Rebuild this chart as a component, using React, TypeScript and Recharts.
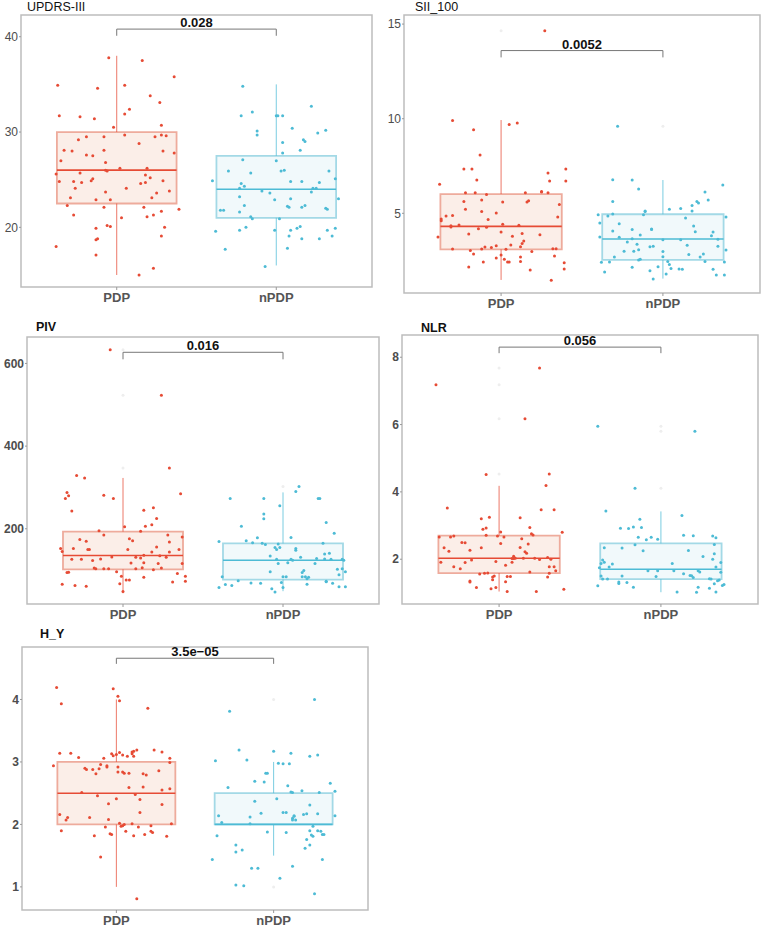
import React from 'react';
import { ComposedChart, Scatter, XAxis, YAxis, ReferenceArea, ReferenceLine } from 'recharts';

const groups = ['PDP', 'nPDP'];

// points are [jitter, value]; boxes are [min, q1, median, q3, max]
const updrsPDP: [number, number][] = [
  [-0.37, 34.9], [-0.36, 31.7], [-0.35, 27.0], [-0.38, 25.6], [-0.36, 24.8], [-0.38, 18.0], [-0.33, 28.1], [-0.31, 22.3],
  [-0.29, 23.1], [-0.28, 28.0], [-0.27, 21.3], [-0.27, 24.8], [-0.26, 24.1], [-0.24, 29.2], [-0.23, 31.6], [-0.23, 25.7],
  [-0.22, 24.7], [-0.19, 27.6], [-0.19, 29.5], [-0.15, 27.5], [-0.16, 24.9], [-0.15, 25.1], [-0.14, 31.4], [-0.13, 22.9],
  [-0.12, 34.6], [-0.12, 18.8], [-0.13, 18.7], [-0.13, 19.9], [-0.13, 17.1], [-0.08, 29.5], [-0.08, 28.1], [-0.08, 22.1],
  [-0.07, 26.8], [-0.07, 23.7], [-0.07, 26.0], [-0.06, 25.9], [-0.06, 20.2], [-0.04, 22.9], [-0.04, 20.1], [-0.05, 37.8],
  [-0.02, 30.5], [0.03, 21.0], [0.02, 26.2], [0.05, 31.9], [0.05, 34.9], [0.05, 29.7], [0.06, 24.1], [0.08, 32.4],
  [0.14, 28.8], [0.16, 37.5], [0.15, 24.6], [0.14, 15.0], [0.18, 25.5], [0.18, 24.7], [0.17, 22.1], [0.19, 26.2],
  [0.19, 21.1], [0.21, 33.8], [0.21, 25.2], [0.22, 23.1], [0.23, 15.7], [0.24, 29.5], [0.23, 21.3], [0.25, 23.6],
  [0.27, 33.1], [0.28, 29.7], [0.28, 30.7], [0.29, 28.0], [0.29, 24.9], [0.28, 21.7], [0.28, 19.1], [0.30, 20.0],
  [0.31, 29.6], [0.33, 23.8], [0.36, 35.8], [0.36, 27.8], [0.39, 21.9],
];
const updrsNPDP: [number, number][] = [
  [-0.40, 24.9], [-0.38, 19.6], [-0.35, 21.8], [-0.33, 21.8], [-0.32, 17.7], [-0.30, 25.9], [-0.23, 24.1], [-0.23, 23.2],
  [-0.22, 24.6], [-0.23, 21.6], [-0.23, 19.7], [-0.22, 31.7], [-0.21, 27.1], [-0.21, 34.8], [-0.20, 22.3], [-0.20, 24.3],
  [-0.19, 20.0], [-0.16, 25.7], [-0.15, 32.1], [-0.16, 21.1], [-0.15, 20.9], [-0.12, 30.1], [-0.12, 29.7], [-0.09, 23.8],
  [-0.07, 15.9], [-0.04, 23.6], [-0.01, 19.7], [-0.01, 22.9], [0.00, 31.7], [0.01, 31.7], [0.00, 27.0], [0.02, 20.9],
  [0.03, 25.9], [0.04, 31.7], [0.04, 28.9], [0.04, 27.8], [0.05, 26.0], [0.07, 17.8], [0.07, 22.2], [0.08, 22.1],
  [0.08, 19.1], [0.09, 23.0], [0.09, 24.8], [0.10, 30.4], [0.09, 19.7], [0.13, 19.9], [0.15, 20.1], [0.15, 28.1],
  [0.16, 18.8], [0.16, 24.8], [0.16, 22.1], [0.17, 29.2], [0.18, 29.0], [0.18, 22.3], [0.22, 23.7], [0.23, 24.1],
  [0.25, 24.1], [0.26, 29.9], [0.27, 24.7], [0.27, 18.8], [0.31, 30.2], [0.32, 19.7], [0.33, 25.9], [0.31, 22.0],
  [0.32, 21.9], [0.35, 19.1], [0.37, 19.9], [0.37, 25.1], [0.39, 23.0], [0.22, 32.7],
];
const updrsBoxPDP = [15, 22.5, 26, 30, 38];
const updrsBoxNPDP = [16, 21, 24, 27.5, 35];

const siiPDP: [number, number][] = [
  [-0.39, 3.75], [-0.38, 6.53], [-0.37, 4.70], [-0.37, 4.61], [-0.34, 4.86], [-0.31, 4.28], [-0.31, 4.35], [-0.30, 4.89],
  [-0.30, 9.91], [-0.30, 3.12], [-0.26, 4.38], [-0.23, 5.62], [-0.23, 7.34], [-0.22, 5.21], [-0.22, 6.09], [-0.20, 3.91],
  [-0.20, 2.17], [-0.19, 3.03], [-0.18, 7.34], [-0.17, 9.42], [-0.17, 2.85], [-0.16, 6.09], [-0.15, 6.76], [-0.14, 4.19],
  [-0.13, 8.08], [-0.12, 5.70], [-0.12, 5.09], [-0.12, 3.12], [-0.11, 2.43], [-0.10, 3.22], [-0.09, 5.99], [-0.09, 4.26],
  [-0.08, 4.68], [-0.06, 3.19], [-0.03, 3.29], [-0.03, 2.64], [-0.03, 5.02], [0.00, 4.01], [0.00, 2.80], [0.01, 4.42],
  [0.01, 5.60], [0.02, 2.57], [0.03, 3.10], [0.04, 2.43], [0.05, 2.43], [0.05, 9.70], [0.06, 3.33], [0.07, 3.79],
  [0.10, 9.77], [0.11, 4.37], [0.12, 3.24], [0.13, 3.40], [0.12, 2.45], [0.12, 2.69], [0.13, 3.93], [0.14, 3.54],
  [0.15, 6.09], [0.16, 5.60], [0.17, 5.67], [0.18, 2.01], [0.19, 2.98], [0.24, 3.87], [0.25, 6.16], [0.25, 6.13],
  [0.27, 14.65], [0.29, 7.13], [0.29, 6.09], [0.30, 6.71], [0.32, 3.13], [0.33, 2.75], [0.34, 3.13], [0.35, 4.81],
  [0.36, 5.46], [0.39, 2.39], [0.39, 2.06], [0.40, 7.34], [0.40, 6.71], [0.31, 1.46],
];
const siiNPDP: [number, number][] = [
  [-0.40, 4.93], [-0.39, 4.49], [-0.39, 3.75], [-0.38, 2.41], [-0.36, 1.90], [-0.34, 4.86], [-0.33, 2.43], [-0.31, 4.96],
  [-0.31, 4.07], [-0.31, 5.63], [-0.31, 6.78], [-0.30, 2.69], [-0.27, 4.45], [-0.27, 3.73], [-0.24, 2.99], [-0.22, 3.49],
  [-0.19, 4.15], [-0.19, 6.76], [-0.19, 3.66], [-0.19, 2.15], [-0.18, 2.99], [-0.16, 3.36], [-0.15, 3.08], [-0.15, 2.54],
  [-0.15, 6.29], [-0.14, 3.86], [-0.14, 2.57], [-0.12, 4.93], [-0.11, 5.09], [-0.11, 5.12], [-0.08, 3.24], [-0.08, 1.97],
  [-0.07, 4.14], [-0.07, 4.17], [-0.06, 3.26], [-0.06, 1.53], [-0.03, 2.18], [0.00, 2.98], [0.00, 3.61], [0.00, 2.71],
  [0.02, 1.80], [0.03, 2.45], [0.04, 2.29], [0.04, 5.21], [0.05, 2.08], [0.10, 2.06], [0.11, 5.25], [0.11, 3.61],
  [0.12, 2.04], [0.14, 4.75], [0.15, 3.31], [0.16, 2.83], [0.18, 5.42], [0.18, 5.12], [0.19, 4.33], [0.20, 4.03],
  [0.21, 5.62], [0.22, 5.55], [0.23, 2.69], [0.25, 2.85], [0.26, 6.13], [0.26, 2.45], [0.28, 5.70], [0.30, 3.82],
  [0.31, 4.01], [0.31, 2.04], [0.33, 1.74], [0.34, 3.63], [0.34, 3.26], [0.37, 6.50], [0.38, 2.43], [0.38, 1.74],
  [0.39, 4.81], [0.39, 3.06], [-0.28, 9.60],
];
const siiBoxPDP = [1.48, 3.1, 4.31, 6.02, 9.93];
const siiBoxNPDP = [1.55, 2.54, 3.64, 4.95, 6.76];
const siiOutPDP = [14.65];
const siiOutNPDP = [9.6];

const pivPDP: [number, number][] = [
  [-0.39, 152], [-0.38, 66], [-0.38, 145], [-0.36, 273], [-0.35, 94], [-0.34, 95], [-0.35, 288], [-0.34, 280],
  [-0.32, 243], [-0.32, 126], [-0.31, 152], [-0.30, 63], [-0.29, 329], [-0.27, 174], [-0.26, 126], [-0.24, 323],
  [-0.23, 61], [-0.23, 170], [-0.22, 150], [-0.21, 150], [-0.19, 123], [-0.18, 105], [-0.17, 103], [-0.15, 195],
  [-0.14, 127], [-0.12, 281], [-0.12, 103], [-0.12, 185], [-0.09, 103], [-0.07, 132], [-0.06, 273], [-0.04, 96],
  [-0.02, 67], [-0.01, 85], [0.00, 48], [0.01, 205], [0.02, 76], [0.03, 150], [0.04, 76], [0.04, 176],
  [0.05, 117], [0.06, 171], [0.08, 103], [0.08, 131], [0.11, 129], [0.11, 194], [0.12, 106], [0.13, 136],
  [0.13, 118], [0.13, 83], [0.13, 245], [0.14, 206], [0.18, 144], [0.18, 210], [0.19, 251], [0.19, 101],
  [0.21, 225], [0.21, 156], [0.22, 116], [0.23, 135], [0.24, 105], [0.24, 523], [0.27, 131], [0.28, 185],
  [0.29, 168], [0.29, 144], [0.29, 347], [0.31, 71], [0.34, 92], [0.35, 150], [0.36, 285], [0.37, 180],
  [0.37, 116], [0.39, 85], [0.39, 73], [-0.08, 633],
];
const pivNPDP: [number, number][] = [
  [-0.40, 58], [-0.40, 169], [-0.38, 84], [-0.36, 65], [-0.33, 273], [-0.32, 63], [-0.28, 74], [-0.26, 206],
  [-0.23, 171], [-0.20, 69], [-0.19, 166], [-0.16, 178], [-0.14, 68], [-0.13, 165], [-0.08, 134], [-0.08, 96],
  [-0.12, 273], [-0.12, 236], [-0.12, 224], [-0.11, 162], [-0.07, 55], [-0.05, 155], [-0.05, 47], [-0.04, 150],
  [-0.03, 163], [-0.03, 116], [-0.02, 155], [-0.02, 256], [0.00, 84], [0.00, 58], [-0.01, 70], [0.02, 84],
  [0.03, 118], [0.05, 179], [0.05, 126], [0.06, 124], [0.08, 152], [0.08, 148], [0.08, 290], [0.10, 302],
  [0.11, 131], [0.12, 94], [0.12, 84], [0.13, 99], [0.14, 84], [0.15, 79], [0.15, 66], [0.16, 83],
  [0.20, 116], [0.21, 128], [0.22, 273], [0.23, 273], [0.25, 165], [0.26, 127], [0.26, 139], [0.27, 72],
  [0.27, 215], [0.27, 73], [0.29, 141], [0.30, 126], [0.31, 68], [0.32, 189], [0.34, 102], [0.35, 89],
  [0.37, 103], [0.37, 126], [0.38, 124], [0.39, 96], [0.39, 60], [0.35, 60], [-0.04, 126],
];
const pivBoxPDP = [44, 102, 135.5, 193, 323];
const pivBoxNPDP = [49, 77, 124, 164.5, 288];
const pivOutPDP = [633, 523, 347];
const pivOutNPDP = [302];

const nlrPDP: [number, number][] = [
  [-0.39, 7.18], [-0.37, 2.66], [-0.36, 1.91], [-0.34, 2.34], [-0.32, 3.52], [-0.31, 2.24], [-0.30, 2.66], [-0.28, 1.78],
  [-0.28, 2.69], [-0.24, 1.72], [-0.23, 2.50], [-0.21, 2.49], [-0.21, 1.90], [-0.18, 2.27], [-0.18, 1.35], [-0.18, 1.32],
  [-0.17, 1.98], [-0.14, 1.16], [-0.11, 3.20], [-0.11, 2.34], [-0.12, 1.56], [-0.10, 2.89], [-0.09, 1.58], [-0.08, 2.93],
  [-0.08, 2.71], [-0.08, 4.52], [-0.07, 1.59], [-0.06, 3.25], [-0.05, 1.12], [-0.04, 1.39], [-0.04, 1.47], [-0.03, 1.50],
  [-0.02, 1.16], [-0.02, 1.93], [-0.01, 2.69], [0.01, 2.81], [0.01, 2.47], [0.03, 2.66], [0.04, 1.82], [0.04, 1.33],
  [0.05, 1.04], [0.05, 1.49], [0.07, 1.49], [0.08, 1.91], [0.08, 2.02], [0.09, 2.09], [0.09, 2.02], [0.10, 2.03],
  [0.13, 2.35], [0.13, 3.23], [0.14, 2.61], [0.15, 2.03], [0.16, 6.17], [0.16, 2.22], [0.17, 2.18], [0.18, 2.45],
  [0.19, 2.94], [0.19, 1.62], [0.20, 2.76], [0.21, 2.72], [0.22, 2.03], [0.23, 1.04], [0.25, 1.99], [0.26, 3.47],
  [0.29, 4.19], [0.30, 2.05], [0.30, 1.47], [0.31, 4.53], [0.31, 1.58], [0.32, 2.00], [0.34, 1.78], [0.34, 3.47],
  [0.35, 1.66], [0.39, 2.80], [0.40, 1.11], [0.25, 7.68], [0.31, 1.78],
];
const nlrNPDP: [number, number][] = [
  [-0.39, 5.95], [-0.39, 1.21], [-0.38, 1.75], [-0.37, 1.50], [-0.37, 1.87], [-0.36, 1.41], [-0.35, 2.34], [-0.36, 1.98],
  [-0.35, 1.91], [-0.34, 3.43], [-0.33, 1.41], [-0.32, 1.77], [-0.30, 1.86], [-0.26, 1.28], [-0.26, 1.32], [-0.25, 2.92],
  [-0.24, 2.33], [-0.24, 1.50], [-0.21, 1.31], [-0.20, 2.91], [-0.17, 2.96], [-0.17, 1.17], [-0.16, 2.43], [-0.16, 4.11],
  [-0.14, 2.65], [-0.13, 3.19], [-0.12, 2.94], [-0.11, 2.25], [-0.09, 2.58], [-0.08, 1.66], [-0.06, 2.65], [-0.03, 1.49],
  [-0.02, 2.59], [-0.02, 1.66], [0.07, 1.87], [0.08, 1.66], [0.10, 1.03], [0.13, 3.30], [0.14, 1.57], [0.14, 2.71],
  [0.17, 2.26], [0.18, 1.52], [0.19, 1.51], [0.20, 1.46], [0.20, 2.70], [0.21, 5.80], [0.22, 1.02], [0.23, 1.17],
  [0.23, 1.66], [0.24, 1.62], [0.26, 2.08], [0.30, 1.14], [0.30, 1.42], [0.31, 1.41], [0.32, 2.69], [0.32, 2.00],
  [0.33, 2.44], [0.33, 1.27], [0.34, 2.64], [0.34, 1.77], [0.34, 1.03], [0.35, 1.36], [0.36, 1.38], [0.37, 1.90],
  [0.37, 1.61], [0.38, 1.22], [0.39, 1.25], [0.33, 2.16],
];
const nlrBoxPDP = [1.04, 1.59, 2.03, 2.70, 4.18];
const nlrBoxNPDP = [1.02, 1.41, 1.70, 2.47, 3.42];
const nlrOutPDP = [7.68, 7.18, 6.17, 4.53];
const nlrOutNPDP = [5.95, 5.8, 4.11];

const hyPDP: [number, number][] = [
  [-0.40, 2.94], [-0.38, 4.19], [-0.36, 2.16], [-0.36, 3.14], [-0.35, 3.93], [-0.35, 1.90], [-0.32, 2.07], [-0.31, 2.11],
  [-0.29, 3.14], [-0.24, 3.07], [-0.22, 2.51], [-0.20, 2.90], [-0.19, 2.88], [-0.17, 2.11], [-0.15, 2.88], [-0.14, 1.82],
  [-0.13, 2.81], [-0.12, 2.46], [-0.11, 2.89], [-0.10, 1.48], [-0.10, 2.96], [-0.08, 3.06], [-0.07, 1.96], [-0.06, 2.92],
  [-0.06, 2.94], [-0.05, 2.33], [-0.05, 2.08], [-0.04, 1.85], [-0.03, 1.84], [-0.02, 4.17], [-0.03, 3.13], [-0.02, 3.10],
  [0.00, 2.41], [0.00, 3.12], [0.01, 2.92], [0.01, 2.84], [0.01, 4.05], [0.02, 2.02], [0.02, 3.15], [0.02, 3.98],
  [0.03, 1.97], [0.04, 1.98], [0.04, 3.11], [0.04, 2.84], [0.05, 2.82], [0.05, 2.00], [0.06, 1.89], [0.07, 3.09],
  [0.08, 2.59], [0.08, 2.82], [0.10, 3.16], [0.10, 3.13], [0.10, 2.01], [0.11, 1.82], [0.11, 3.17], [0.11, 3.09],
  [0.12, 2.48], [0.13, 3.19], [0.14, 1.96], [0.15, 2.19], [0.15, 2.40], [0.17, 2.81], [0.17, 2.60], [0.18, 1.84],
  [0.19, 2.79], [0.20, 3.86], [0.22, 1.89], [0.22, 1.98], [0.23, 1.87], [0.24, 3.19], [0.27, 2.86], [0.29, 3.16],
  [0.29, 2.32], [0.29, 2.55], [0.32, 1.81], [0.34, 3.06], [0.34, 2.99], [0.34, 2.57], [0.35, 2.01], [0.13, 0.81],
];
const hyNPDP: [number, number][] = [
  [-0.39, 1.44], [-0.37, 3.02], [-0.36, 1.82], [-0.35, 2.14], [-0.33, 2.03], [-0.29, 2.59], [-0.28, 3.81], [-0.24, 1.67],
  [-0.24, 1.56], [-0.24, 1.03], [-0.22, 3.19], [-0.20, 1.59], [-0.19, 1.02], [-0.17, 3.03], [-0.15, 2.12], [-0.15, 2.01],
  [-0.14, 1.30], [-0.12, 2.37], [-0.12, 2.69], [-0.10, 1.30], [-0.08, 2.18], [-0.06, 2.68], [-0.05, 2.82], [-0.04, 2.82],
  [-0.04, 1.88], [0.00, 3.17], [0.02, 2.41], [0.03, 2.98], [0.04, 1.14], [0.06, 2.97], [0.06, 2.19], [0.08, 2.19],
  [0.08, 1.87], [0.09, 2.62], [0.10, 2.97], [0.11, 3.14], [0.11, 2.52], [0.12, 2.51], [0.12, 2.07], [0.12, 1.33],
  [0.12, 2.10], [0.13, 2.13], [0.13, 2.14], [0.14, 2.07], [0.18, 2.54], [0.19, 2.16], [0.20, 1.62], [0.21, 1.76],
  [0.21, 2.17], [0.23, 2.31], [0.23, 3.09], [0.23, 1.90], [0.23, 1.67], [0.24, 1.83], [0.25, 1.97], [0.25, 1.81],
  [0.26, 0.89], [0.26, 4.00], [0.28, 1.90], [0.28, 2.17], [0.28, 3.11], [0.29, 2.51], [0.30, 1.89], [0.31, 1.84],
  [0.31, 1.44], [0.32, 1.84], [0.36, 2.66], [0.39, 2.53], [0.39, 2.14],
];
const hyBoxPDP = [1, 2, 2.5, 3, 4];
const hyBoxNPDP = [1.5, 2, 2, 2.5, 3];
const hyOutNPDP = [4, 1];

const FONT = '"Liberation Sans", Arial, Helvetica, sans-serif';
const RED = '#E64B35';
const BLUE = '#4DBBD5';
const TOP = 16; // room above the frame for the p-value text

const panels = [
  {
    title: 'UPDRS-III', bold: false, p: '0.028', bracket: [40.1, 40.8],
    domain: [13.74, 42.28], ticks: [20, 30, 40],
    frame: { l: 21, t: 15, r: 372, b: 287 }, chartLeft: 0, titlePos: [27, 0],
    pdp: updrsPDP, npdp: updrsNPDP, boxPdp: updrsBoxPDP, boxNpdp: updrsBoxNPDP, outPdp: [], outNpdp: [],
  },
  {
    title: 'SII_100', bold: false, p: '0.0052', bracket: [13.24, 13.6],
    domain: [0.79, 15.48], ticks: [5, 10, 15],
    frame: { l: 404, t: 15, r: 760, b: 293 }, chartLeft: 380, titlePos: [415, 0],
    pdp: siiPDP, npdp: siiNPDP, boxPdp: siiBoxPDP, boxNpdp: siiBoxNPDP, outPdp: siiOutPDP, outNpdp: siiOutNPDP,
  },
  {
    title: 'PIV', bold: true, p: '0.016', bracket: [610, 627],
    domain: [18, 664], ticks: [200, 400, 600],
    frame: { l: 27, t: 337, r: 379, b: 604 }, chartLeft: 0, titlePos: [36, 320],
    pdp: pivPDP, npdp: pivNPDP, boxPdp: pivBoxPDP, boxNpdp: pivBoxNPDP, outPdp: pivOutPDP, outNpdp: pivOutNPDP,
  },
  {
    title: 'NLR', bold: true, p: '0.056', bracket: [8.12, 8.3],
    domain: [0.67, 8.66], ticks: [2, 4, 6, 8],
    frame: { l: 402, t: 335, r: 758, b: 604 }, chartLeft: 380, titlePos: [421, 321],
    pdp: nlrPDP, npdp: nlrNPDP, boxPdp: nlrBoxPDP, boxNpdp: nlrBoxNPDP, outPdp: nlrOutPDP, outNpdp: nlrOutNPDP,
  },
  {
    title: 'H_Y', bold: true, p: '3.5e\u221205', bracket: [4.57, 4.66],
    domain: [0.63, 4.84], ticks: [1, 2, 3, 4],
    frame: { l: 22, t: 647, r: 368, b: 910 }, chartLeft: 0, titlePos: [40, 627],
    pdp: hyPDP, npdp: hyNPDP, boxPdp: hyBoxPDP, boxNpdp: hyBoxNPDP, outPdp: [], outNpdp: hyOutNPDP,
  },
];

const dot = (color: string) => (props: any) => (
  <circle cx={props.cx} cy={props.cy} r={1.5} fill={color} />
);

// boxplot pieces drawn with reference elements in data coordinates
function boxParts(stats: number[], c: number, color: string, fill: string, edge: string, key: string) {
  const [mn, q1, med, q3, mx] = stats;
  const hw = 0.375;
  return [
    <ReferenceLine key={key + 'w1'} segment={[{ x: c, y: mn }, { x: c, y: q1 }]} stroke={color} strokeOpacity={0.75} strokeWidth={1} />,
    <ReferenceLine key={key + 'w2'} segment={[{ x: c, y: q3 }, { x: c, y: mx }]} stroke={color} strokeOpacity={0.75} strokeWidth={1} />,
    <ReferenceArea key={key + 'box'} x1={c - hw} x2={c + hw} y1={q1} y2={q3} fill={fill} fillOpacity={1} stroke={edge} strokeWidth={1.8} />,
    <ReferenceLine key={key + 'med'} segment={[{ x: c - hw, y: med }, { x: c + hw, y: med }]} stroke={color} strokeWidth={1.6} />,
  ];
}

function Panel({ cfg }: { cfg: any }) {
  const { frame, chartLeft, domain, ticks, bold, title, p, bracket } = cfg;
  const yw = frame.l - chartLeft;
  const w = frame.r - chartLeft + 2;
  const h = frame.b - frame.t + TOP + 30;
  const pdpData = cfg.pdp.map(([j, v]: number[]) => ({ x: 1 + j, y: v }));
  const npdpData = cfg.npdp.map(([j, v]: number[]) => ({ x: 2 + j, y: v }));
  const outData = [
    ...cfg.outPdp.map((v: number) => ({ x: 1, y: v })),
    ...cfg.outNpdp.map((v: number) => ({ x: 2, y: v })),
  ];
  const tickStyle = { fill: '#4d4d4d', fontSize: 12, fontWeight: bold ? 700 : 400, fontFamily: FONT };

  return (
    <>
      <div
        style={{
          position: 'absolute', left: cfg.titlePos[0], top: cfg.titlePos[1], fontFamily: FONT,
          fontSize: 12.5, lineHeight: '15px', fontWeight: bold ? 700 : 400, color: '#111',
        }}
      >
        {title}
      </div>
      <div style={{ position: 'absolute', left: chartLeft, top: frame.t - TOP }}>
        <ComposedChart width={w} height={h} margin={{ top: TOP, right: 2, bottom: 0, left: 0 }}>
          <XAxis
            dataKey="x" type="number" domain={[0.4, 2.6]} ticks={[1, 2]} allowDataOverflow
            tickFormatter={(v: number) => groups[v - 1]} height={30}
            axisLine={false} tickLine={{ stroke: '#9a9a9a' }} tickSize={3} tickMargin={3}
            tick={{ fill: '#555', fontSize: 13, fontWeight: 700, fontFamily: FONT }}
          />
          <YAxis
            dataKey="y" type="number" domain={domain} ticks={ticks} allowDataOverflow width={yw}
            axisLine={false} tickLine={{ stroke: '#9a9a9a' }} tickSize={2} tickMargin={1}
            tick={tickStyle}
          />
          <ReferenceArea x1={0.4} x2={2.6} y1={domain[0]} y2={domain[1]} fill="none" stroke="#bdbdbd" strokeWidth={1.5} />
          {boxParts(cfg.boxPdp, 1, RED, '#fbeee8', '#eeab9c', 'p')}
          {boxParts(cfg.boxNpdp, 2, BLUE, '#f1f9fb', '#a3d9e6', 'n')}
          <ReferenceLine segment={[{ x: 1, y: bracket[0] }, { x: 1, y: bracket[1] }]} stroke="#777" strokeWidth={1} />
          <ReferenceLine segment={[{ x: 2, y: bracket[0] }, { x: 2, y: bracket[1] }]} stroke="#777" strokeWidth={1} />
          <ReferenceLine
            segment={[{ x: 1, y: bracket[1] }, { x: 2, y: bracket[1] }]} stroke="#777" strokeWidth={1}
            label={{ value: p, position: 'top', offset: 2, fill: '#111', fontSize: 13, fontWeight: 700, fontFamily: FONT }}
          />
          <Scatter data={outData} shape={dot('#eeeeee')} isAnimationActive={false} />
          <Scatter data={pdpData} shape={dot(RED)} isAnimationActive={false} />
          <Scatter data={npdpData} shape={dot(BLUE)} isAnimationActive={false} />
        </ComposedChart>
      </div>
    </>
  );
}

export default function App() {
  return (
    <div style={{ position: 'absolute', left: 0, top: 0, width: 767, height: 928, background: '#fff' }}>
      {panels.map((cfg) => (
        <Panel key={cfg.title} cfg={cfg} />
      ))}
    </div>
  );
}
